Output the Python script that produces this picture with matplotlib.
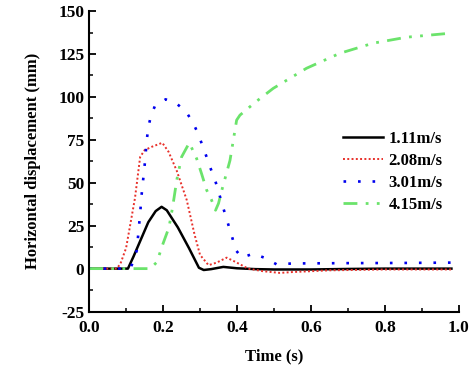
import numpy as np
import matplotlib

matplotlib.use('Agg')
import matplotlib.pyplot as plt
from matplotlib.ticker import MultipleLocator

plt.rcParams['font.family'] = ['Liberation Serif', 'DejaVu Serif']
plt.rcParams['font.weight'] = 'bold'
plt.rcParams['axes.unicode_minus'] = False

# values
t_111 = [0.0, 0.10, 0.105, 0.12, 0.14, 0.16, 0.18, 0.196, 0.21, 0.24, 0.27, 0.297, 0.31, 0.33, 0.363, 0.40, 0.45, 0.5, 0.6, 0.7, 0.8, 0.98]
v_111 = [0.0, 0.0, 0.0, 7.0, 17.0, 27.0, 33.5, 36.0, 34.0, 24.0, 12.0, 0.5, -0.8, -0.3, 1.0, 0.2, -0.3, -0.5, -0.5, -0.2, 0.0, 0.0]

t_208 = [0.0, 0.075, 0.085, 0.10, 0.124, 0.138, 0.15, 0.17, 0.198, 0.215, 0.237, 0.264, 0.285, 0.30, 0.323, 0.345, 0.372, 0.395, 0.43, 0.47, 0.516, 0.55, 0.65, 0.8, 0.98]
v_208 = [0.0, 0.0, 3.0, 12.0, 41.0, 65.0, 69.0, 71.0, 73.3, 68.0, 57.0, 40.0, 20.0, 8.0, 2.0, 3.5, 6.4, 4.0, 0.0, -1.5, -2.5, -2.0, -1.0, -0.5, -0.5]

t_301 = [0.0, 0.11, 0.12, 0.129, 0.138, 0.142, 0.151, 0.156, 0.16, 0.167, 0.178, 0.207, 0.237, 0.261, 0.28, 0.294, 0.306, 0.317, 0.328, 0.34, 0.35, 0.359, 0.368, 0.377, 0.388, 0.396, 0.413, 0.444, 0.476, 0.507, 0.55, 0.7, 0.85, 0.98]
v_301 = [0.0, 0.0, 4.0, 10.7, 32.0, 43.0, 62.0, 75.0, 82.0, 89.0, 94.7, 98.6, 96.0, 91.8, 85.4, 79.0, 72.0, 65.5, 58.7, 52.0, 45.0, 38.0, 31.7, 25.3, 17.5, 11.0, 6.4, 8.7, 6.2, 2.5, 3.0, 3.2, 3.3, 3.5]

t_415 = [0.0, 0.165, 0.183, 0.20, 0.216, 0.226, 0.237, 0.25, 0.271, 0.291, 0.304, 0.318, 0.331, 0.342, 0.35, 0.359, 0.381, 0.399, 0.408, 0.45, 0.498, 0.588, 0.678, 0.768, 0.859, 0.976]
v_415 = [0.0, 0.0, 3.7, 14.6, 24.0, 36.0, 51.5, 65.0, 73.3, 64.0, 55.4, 45.7, 40.0, 34.0, 38.0, 45.7, 63.0, 86.5, 89.4, 97.0, 105.0, 116.7, 125.4, 131.3, 134.8, 137.1]

labels = ['1.11m/s', '2.08m/s', '3.01m/s', '4.15m/s']

fig = plt.figure(figsize=(4.74, 3.70), dpi=100)
ax = fig.add_axes([0.188, 0.158, 0.780, 0.812])

ax.plot(t_111, v_111, color='black', linewidth=1.8, linestyle='-', label=labels[0])
ax.plot(t_208, v_208, color='#e8302a', linewidth=1.4, linestyle=(0, (1, 1.2)), label=labels[1])
ax.plot(t_301, v_301, color='#0000ee', linewidth=1.9, linestyle=(0, (1, 4.5)), label=labels[2])
ax.plot(t_415, v_415, color='#6be36b', linewidth=2.0, linestyle=(0, (5, 3, 1, 3, 1, 3)), label=labels[3])

ax.set_xlim(0, 1.0)
ax.set_ylim(-25, 150)
ax.xaxis.set_major_locator(MultipleLocator(0.2))
ax.xaxis.set_minor_locator(MultipleLocator(0.1))
ax.yaxis.set_major_locator(MultipleLocator(25))
ax.yaxis.set_minor_locator(MultipleLocator(12.5))
ax.xaxis.set_major_formatter(matplotlib.ticker.FormatStrFormatter('%.1f'))

ax.spines['top'].set_visible(False)
ax.spines['right'].set_visible(False)
ax.spines['left'].set_linewidth(1.5)
ax.spines['bottom'].set_linewidth(1.5)
ax.tick_params(which='major', direction='in', length=5, width=1.3, labelsize=12.5)
ax.tick_params(axis='x', which='major', pad=6)
ax.tick_params(which='minor', direction='in', length=3, width=1.1)
for lab in ax.get_xticklabels() + ax.get_yticklabels():
    lab.set_fontweight('bold')

ax.set_xlabel('Time (s)', fontsize=12, fontweight='bold', labelpad=9)
ax.set_ylabel('Horizontal displacement (mm)', fontsize=12, fontweight='bold', labelpad=12)

leg = ax.legend(loc='center left', bbox_to_anchor=(0.645, 0.465), frameon=False,
                prop={'size': 12, 'weight': 'bold'}, handlelength=2.45, handletextpad=0.3,
                labelspacing=0.35)

fig.savefig('out.png', dpi=100)
